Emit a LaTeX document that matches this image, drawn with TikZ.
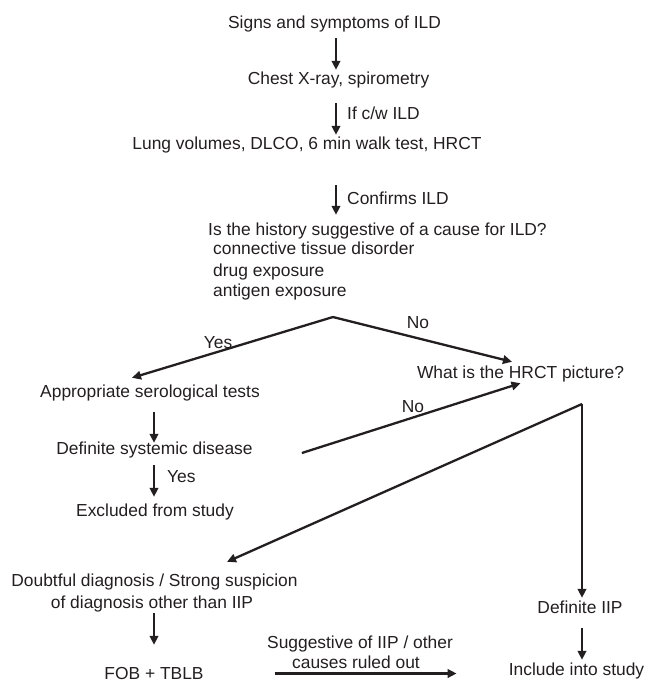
\documentclass[tikz,border=0pt]{standalone}
\usepackage{fontspec}
\setmainfont{Liberation Sans}
\usetikzlibrary{arrows.meta}
\definecolor{ink}{RGB}{35,31,32}
\begin{document}
\begin{tikzpicture}[x=1pt,y=-1pt,
  every node/.style={font=\fontsize{17.4}{20}\selectfont, text=ink, inner sep=0pt, text height=12.5pt, text depth=0pt},
  arr/.style={draw=ink, line width=2.3pt, -{Triangle[length=9pt,width=8.5pt]}},
  ln/.style={draw=ink, line width=2.3pt}]
\useasboundingbox (0,0) rectangle (647,681);

% nodes
\node (signs) at (334.5,22) {Signs and symptoms of ILD};
\node (chest) at (338.5,78) {Chest X-ray, spirometry};
\node (lung) at (307,143) {Lung volumes, DLCO, 6 min walk test, HRCT};
\node[anchor=west] (histq) at (208,229) {Is the history suggestive of a cause for ILD?};
\node[anchor=west] (b1) at (213,248.5) {connective tissue disorder};
\node[anchor=west] (b2) at (213,270) {drug exposure};
\node[anchor=west] (b3) at (213,290.5) {antigen exposure};
\node (app) at (150,391) {Appropriate serological tests};
\node (defsys) at (154.5,448) {Definite systemic disease};
\node (excl) at (155,510) {Excluded from study};
\node (hrct) at (520.5,372) {What is the HRCT picture?};
\node (doubt1) at (154.5,580) {Doubtful diagnosis / Strong suspicion};
\node (doubt2) at (152,602) {of diagnosis other than IIP};
\node (fob) at (154,673) {FOB + TBLB};
\node (defiip) at (580,607) {Definite IIP};
\node (incl) at (576.5,669.5) {Include into study};

% labels
\node[anchor=west] (lbl1) at (347,113) {If c/w ILD};
\node[anchor=west] (lbl2) at (347,198) {Confirms ILD};
\node (lyes1) at (218,342) {Yes};
\node (lno1) at (418,322) {No};
\node (lno2) at (413,406) {No};
\node[anchor=west] (lyes2) at (167,476) {Yes};
\node (sugg1) at (360,642) {Suggestive of IIP / other};
\node (sugg2) at (356,662) {causes ruled out};

% helper coordinates
\coordinate (ax1) at (336,0);
\coordinate (ax2) at (154,0);
\coordinate (ax3) at (582,0);
\coordinate (split1) at (333,317);
\coordinate (split2) at (582,404);

% vertical arrows
\draw[arr, shorten <=9.75pt, shorten >=1.75pt] (signs.south -| ax1) -- (chest.north -| ax1);
\draw[arr, shorten <=18.75pt, shorten >=1.75pt] (chest.south -| ax1) -- (lung.north -| ax1);
\draw[arr, shorten <=35.75pt, shorten >=7.75pt] (lung.south -| ax1) -- (histq.north -| ax1);
\draw[arr, shorten <=14.75pt, shorten >=-1.25pt] (app.south -| ax2) -- (defsys.north -| ax2);
\draw[arr, shorten <=10.75pt, shorten >=6.75pt] (defsys.south -| ax2) -- (excl.north -| ax2);
\draw[arr, shorten <=14.75pt, shorten >=3.25pt] (defiip.south -| ax3) -- (incl.north -| ax3);
\draw[arr, shorten <=4.75pt, shorten >=21.75pt] (doubt2.south -| ax2) -- (fob.north -| ax2);
\draw[arr, shorten <=71pt, shorten >=52pt] ([yshift=-0.5pt]fob.east) -- ([yshift=-0.5pt]incl.west |- fob.east);

% branches
\draw[arr] (split1) -- ([xshift=-18pt,yshift=6.75pt]app.north);
\draw[arr] (split1) -- ([xshift=-8.5pt,yshift=3.75pt]hrct.north);
\draw[arr] ([xshift=49pt,yshift=-5pt]defsys.east) -- ([yshift=-4.75pt]hrct.south);
\draw[arr] (split2) -- ([xshift=72.5pt,yshift=11.75pt]doubt1.north);
\draw[arr] (split2) -- ([yshift=2.75pt]split2 |- defiip.north);
\end{tikzpicture}
\end{document}
